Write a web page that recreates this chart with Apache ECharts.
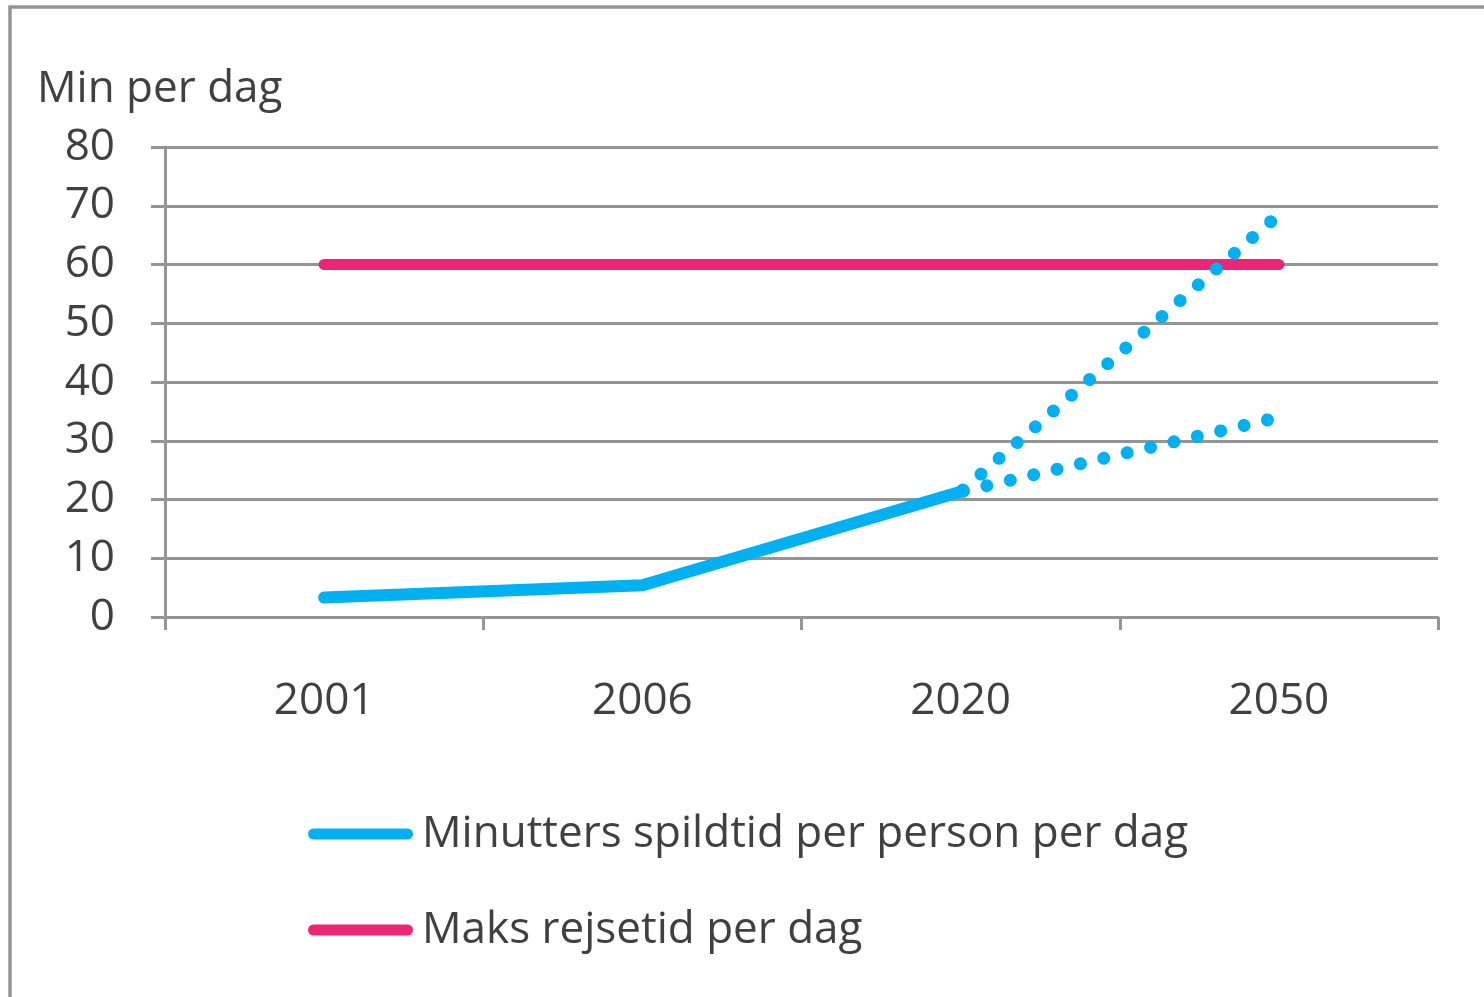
<!DOCTYPE html>
<html>
<head>
<meta charset="utf-8">
<script src="https://cdn.jsdelivr.net/npm/echarts@6/dist/echarts.min.js"></script>
<style>
html,body{margin:0;padding:0;background:#fff;}
#c{width:1484px;height:997px;}
</style>
</head>
<body>
<div id="c"></div>
<script>
const categories = ['2001', '2006', '2020', '2050'];
const spildtid = [3.3, 5.4, 21.3, '-'];
const maksRejsetid = [60, 60, 60, 60];
const prognoseHoj = ['-', '-', 21.3, 68.5];
const prognoseLav = ['-', '-', 21.3, 34];
const yTitle = 'Min per dag';
const nameSpild = 'Minutters spildtid per person per dag';
const nameMaks = 'Maks rejsetid per dag';

const FONT = 'Open Sans';
const FS = 44;
const TXT = '#404040';
const GRAY = '#959595';
const BLUE = '#00B0F0';
const PINK = '#EC2674';

const chart = echarts.init(document.getElementById('c'));
const legendIcon = 'path://M5.5,0 H99.5 A5.5,5.5 0 0 1 99.5,11 H5.5 A5.5,5.5 0 0 1 5.5,0 Z';
chart.setOption({
  animation: false,
  backgroundColor: '#fff',
  textStyle: { fontFamily: FONT },
  grid: { left: 165, right: 46, top: 147, bottom: 380, containLabel: false },
  graphic: [
    { type: 'rect', shape: { x: 10, y: 7, width: 1600, height: 1200 },
      style: { fill: 'none', stroke: GRAY, lineWidth: 3.5 }, silent: true },
    { type: 'text', x: 37, y: 89,
      style: { text: yTitle, font: FS + 'px ' + FONT, fill: TXT, verticalAlign: 'middle' } }
  ],
  legend: {
    orient: 'vertical', left: 308, top: 809, padding: 0,
    data: [nameSpild, nameMaks],
    itemWidth: 105, itemHeight: 11, itemGap: 46,
    icon: legendIcon,
    textStyle: { fontFamily: FONT, fontSize: FS, color: TXT, lineHeight: 50, padding: [0, 0, 0, 4] }
  },
  xAxis: {
    type: 'category', data: categories, boundaryGap: true,
    axisLine: { lineStyle: { color: GRAY, width: 3 } },
    axisTick: { show: true, length: 13, lineStyle: { color: GRAY, width: 3 } },
    axisLabel: { fontFamily: FONT, fontSize: FS, color: TXT, margin: 62 },
    splitLine: { show: false }
  },
  yAxis: {
    type: 'value', min: 0, max: 80, interval: 10,
    axisLine: { show: true, lineStyle: { color: GRAY, width: 3 } },
    axisTick: { show: true, length: 14, lineStyle: { color: GRAY, width: 3 } },
    axisLabel: { fontFamily: FONT, fontSize: FS, color: TXT, margin: 50 },
    splitLine: { show: true, lineStyle: { color: GRAY, width: 3 } }
  },
  series: [
    { name: nameMaks, type: 'line', data: maksRejsetid, symbol: 'none',
      color: PINK, lineStyle: { color: PINK, width: 11, cap: 'round' } },
    { name: nameSpild, type: 'line', data: spildtid, symbol: 'none',
      color: BLUE, lineStyle: { color: BLUE, width: 12, cap: 'round', join: 'round' } },
    { name: 'Prognose høj', type: 'line', data: prognoseHoj, symbol: 'none',
      lineStyle: { color: BLUE, width: 13, cap: 'round', type: [0.01, 24], dashOffset: -27 } },
    { name: 'Prognose lav', type: 'line', data: prognoseLav, symbol: 'none',
      lineStyle: { color: BLUE, width: 13, cap: 'round', type: [0.01, 24], dashOffset: -27 } }
  ]
});
</script>
</body>
</html>
